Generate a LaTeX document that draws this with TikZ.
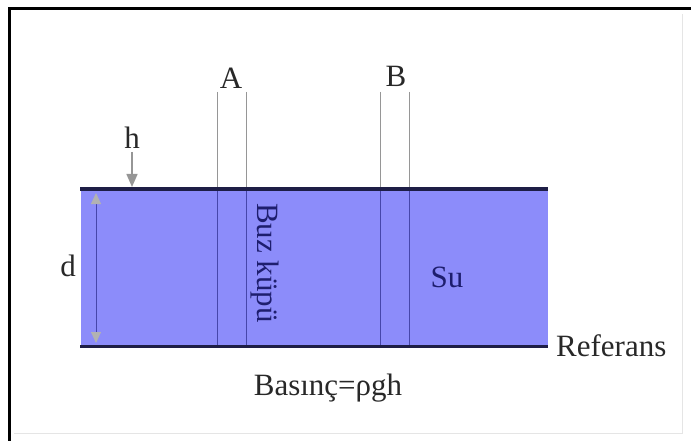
\documentclass[tikz,border=0pt]{standalone}
\usepackage{fontspec}
\setmainfont{Liberation Serif}
\usetikzlibrary{arrows.meta}

\definecolor{water}{RGB}{140,140,250}
\definecolor{navyline}{RGB}{30,30,70}
\definecolor{tubeblue}{RGB}{70,70,170}
\definecolor{tubegray}{RGB}{150,150,150}
\definecolor{textgray}{RGB}{40,40,40}
\definecolor{textnavy}{RGB}{30,30,110}

\begin{document}
\begin{tikzpicture}[x=1pt, y=-1pt,
  lbl/.style={text=textgray, font=\fontsize{31}{34}\selectfont, inner sep=0pt},
  inlbl/.style={lbl, text=textnavy},
  surface/.style={navyline, line width=3pt},
  tube/.style={line width=1pt}]
\useasboundingbox (0,0) rectangle (691,441);

% Frame
\draw[black, line width=3pt] (9,441) -- (9,9) -- (691,9);
\draw[gray!20, line width=1pt] (682,14) -- (682,433) -- (14,433);

% Water body
\fill[water] (81,189) rectangle (548,346);

% Tubes A and B
\foreach \xa in {217,246,380,409} {
  \draw[tube, tubegray] (\xa,92) -- (\xa,189);
  \draw[tube, tubeblue] (\xa,189) -- (\xa,346);
}

% Surface and reference lines
\draw[surface] (80,189) coordinate (surfL) -- (548,189) coordinate (surfR);
\draw[surface] (80,346) coordinate (refL) -- (548,346) coordinate (refR);

% Labels
\node[lbl] (A) at (231,78) {A};
\node[lbl] (B) at (396,76) {B};
\node[lbl] (h) at (132,138) {h};
\node[lbl] (d) at (68,266) {d};
\node[inlbl] (su) at (447,277) {Su};
\node[inlbl, rotate=-90] (buz) at (265,263) {Buz küpü};
\node[lbl, anchor=west] (ref) at ([xshift=8pt]refR) {Referans};
\node[lbl] (bas) at (328,388) {Basınç=ρgh};

% h arrow
\coordinate (hpt) at (132,187);
\draw[tubegray, line width=1.5pt, -{Triangle[width=11pt, length=13pt]}] ([yshift=-3pt]h.south) -- (hpt);

% d double arrow
\coordinate (dtop) at (96,193);
\coordinate (dbot) at (96,343);
\draw[tubeblue, line width=1pt, {Triangle[width=10pt, length=11pt, color=gray!60]}-{Triangle[width=10pt, length=11pt, color=gray!60]}] (dtop) -- (dbot);

\end{tikzpicture}
\end{document}
